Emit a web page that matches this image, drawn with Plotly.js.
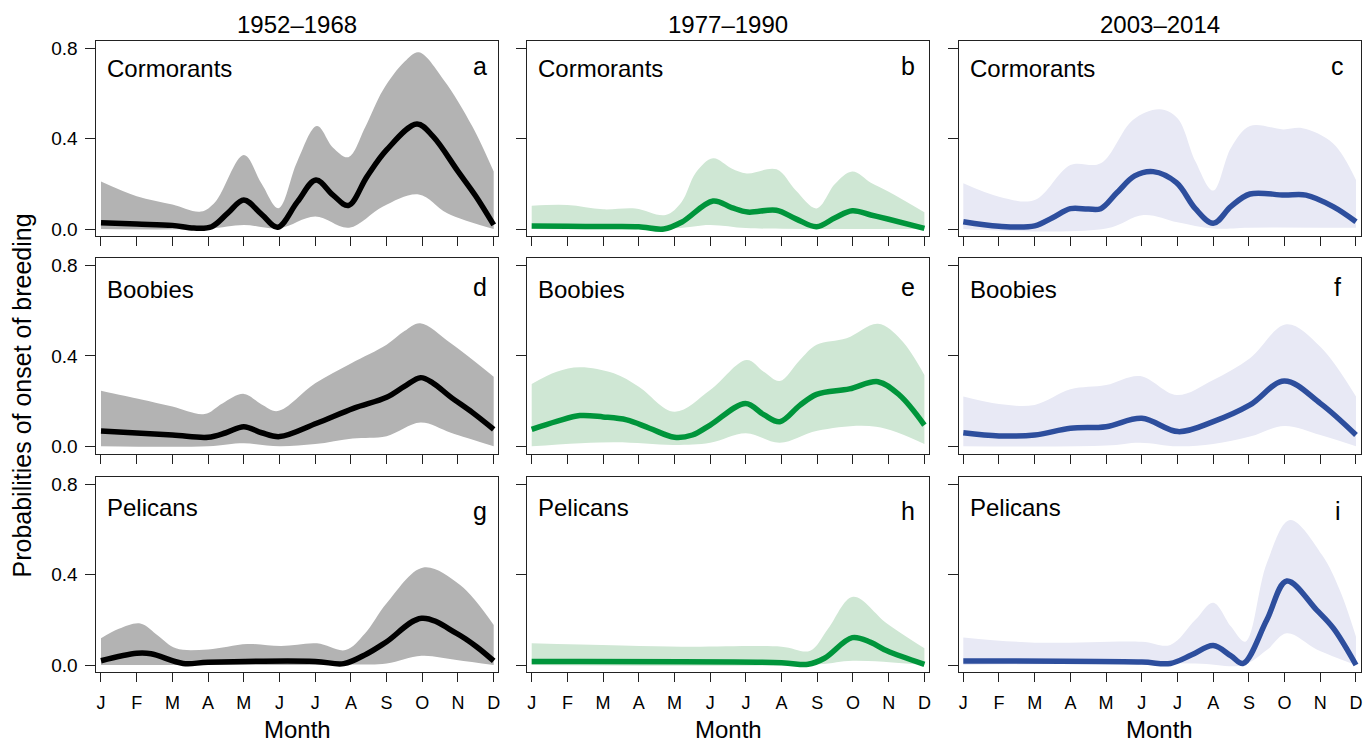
<!DOCTYPE html>
<html>
<head>
<meta charset="utf-8">
<script src="https://cdn.plot.ly/plotly-3.0.1.min.js"></script>
<style>html,body{margin:0;padding:0;background:#fff;}#chart{width:1371px;height:745px;}</style>
</head>
<body>
<div id="chart"></div>
<script>
// ---- Data (month index 1=J ... 12=D, probability) ----
const monthLabels = ['J','F','M','A','M','J','J','A','S','O','N','D'];
const periods = ['1952–1968','1977–1990','2003–2014'];
const species = ['Cormorants','Boobies','Pelicans'];
const panelLetters = ['a','b','c','d','e','f','g','h','i'];

// Cormorants 1952–1968 (a)
const aMean  = [[1,0.028],[2,0.022],[3,0.016],[3.6,0.004],[4.1,0.01],[4.55,0.07],[5.0,0.128],[5.5,0.065],[5.95,0.008],[6.5,0.12],[7.02,0.217],[7.5,0.15],[7.93,0.104],[8.45,0.232],[9.0,0.35],[9.85,0.465],[10.3,0.41],[11.0,0.255],[11.5,0.145],[12,0.018]];
const aUpper = [[1,0.21],[2.0,0.145],[3.0,0.108],[3.8,0.077],[4.2,0.12],[5.0,0.328],[5.5,0.2],[5.97,0.092],[6.5,0.3],[7.05,0.456],[7.5,0.36],[7.93,0.318],[8.4,0.45],[8.9,0.615],[9.5,0.74],[9.9,0.782],[10.6,0.66],[11.4,0.455],[12,0.254]];
const aLower = [[1,0.0],[4,0.002],[5,0.018],[6,0.003],[7,0.055],[7.95,0.006],[8.9,0.1],[9.9,0.153],[10.7,0.07],[12,0.0]];
// Cormorants 1977–1990 (b)
const bMean  = [[1,0.013],[2,0.012],[3,0.011],[4,0.01],[4.7,0.0],[5.2,0.03],[6.08,0.124],[6.6,0.095],[7.05,0.075],[7.85,0.083],[8.4,0.045],[8.98,0.01],[9.5,0.05],[9.98,0.081],[10.5,0.062],[11.0,0.043],[12,0.003]];
const bUpper = [[1,0.103],[2,0.106],[3,0.087],[3.9,0.091],[4.75,0.062],[5.2,0.12],[5.6,0.25],[6.08,0.313],[6.6,0.268],[7.02,0.246],[7.86,0.264],[8.4,0.17],[8.98,0.091],[9.5,0.2],[9.98,0.254],[10.5,0.205],[11.0,0.165],[12,0.074]];
const bLower = [[1,0.0],[5,0.003],[6,0.018],[7,0.004],[8,0.001],[12,0.0]];
// Cormorants 2003–2014 (c)
const cMean  = [[1,0.032],[2,0.012],[3,0.014],[3.5,0.05],[4.0,0.09],[4.5,0.088],[4.85,0.09],[5.3,0.16],[5.8,0.235],[6.32,0.254],[6.97,0.205],[7.5,0.09],[8.0,0.025],[8.5,0.1],[9.03,0.155],[9.99,0.15],[10.6,0.15],[11.36,0.099],[12,0.032]];
const cUpper = [[1,0.202],[2,0.143],[3,0.128],[4.0,0.283],[4.85,0.291],[5.75,0.483],[6.5,0.53],[7.0,0.49],[7.5,0.3],[8.0,0.17],[8.5,0.36],[9.03,0.456],[9.96,0.441],[10.5,0.446],[11.36,0.379],[12,0.217]];
const cLower = [[1,0.0],[5,0.002],[6.05,0.062],[7,0.03],[8,0.002],[9,0.006],[12,0.005]];
// Boobies 1952–1968 (d)
const dMean  = [[1,0.068],[3,0.05],[4,0.04],[4.5,0.06],[5.0,0.087],[5.5,0.06],[6.0,0.043],[7.04,0.102],[8.07,0.168],[9.0,0.217],[9.5,0.265],[9.95,0.304],[10.3,0.28],[10.78,0.22],[11.4,0.15],[12,0.075]];
const dUpper = [[1,0.246],[2.1,0.208],[3.0,0.176],[3.9,0.143],[4.4,0.19],[5.0,0.232],[5.5,0.185],[5.95,0.156],[7.0,0.279],[8.0,0.367],[9.0,0.45],[9.5,0.51],[9.94,0.545],[10.8,0.456],[12,0.308]];
const dLower = [[1,0.0],[4,0.0],[5,0.013],[6,0.0],[7,0.01],[8.05,0.035],[9,0.045],[9.95,0.105],[10.8,0.06],[12,0.0]];
// Boobies 1977–1990 (e)
const eMean  = [[1,0.075],[1.7,0.11],[2.35,0.136],[3.0,0.13],[3.66,0.117],[4.3,0.08],[5.0,0.04],[5.5,0.05],[6.0,0.094],[6.99,0.19],[7.5,0.14],[7.95,0.109],[8.5,0.18],[8.98,0.23],[9.9,0.254],[10.7,0.286],[11.3,0.227],[12,0.094]];
const eUpper = [[1,0.276],[1.7,0.33],[2.35,0.35],[3.3,0.323],[4.0,0.264],[5.0,0.153],[6.0,0.249],[7.02,0.382],[7.5,0.33],[7.95,0.289],[8.5,0.38],[8.98,0.449],[9.82,0.478],[10.7,0.542],[11.35,0.471],[12,0.316]];
const eLower = [[1,0.0],[3.3,0.018],[5,0.006],[6,0.016],[7,0.058],[7.95,0.016],[9.0,0.069],[10.65,0.087],[12,0.01]];
// Boobies 2003–2014 (f)
const fMean  = [[1,0.06],[2,0.046],[3,0.05],[4,0.08],[5,0.087],[6.0,0.124],[7.02,0.065],[8.0,0.109],[9.03,0.183],[9.99,0.289],[11.0,0.19],[12,0.05]];
const fUpper = [[1,0.22],[2,0.187],[3,0.183],[4,0.252],[5,0.271],[5.95,0.311],[6.98,0.227],[8.0,0.294],[9.03,0.39],[10.05,0.54],[11.0,0.441],[12,0.22]];
const fLower = [[1,0.0],[5,0.003],[5.95,0.016],[7,0.0],[8,0.01],[9.03,0.043],[9.99,0.09],[11,0.05],[12,0.0]];
// Pelicans 1952–1968 (g)
const gMean  = [[1,0.019],[2.0,0.052],[2.4,0.05],[3.3,0.007],[4.0,0.012],[7.0,0.016],[7.8,0.006],[8.44,0.049],[9.0,0.103],[9.98,0.207],[10.96,0.14],[11.52,0.081],[12,0.018]];
const gUpper = [[1,0.118],[1.5,0.16],[2.1,0.184],[2.6,0.13],[3.1,0.074],[4.0,0.069],[5.1,0.093],[6.05,0.084],[7.05,0.096],[7.85,0.066],[8.4,0.14],[9.0,0.273],[10.03,0.432],[11.06,0.354],[12,0.177]];
const gLower = [[1,0.0],[8,0.002],[9.0,0.007],[9.98,0.041],[10.96,0.022],[12,0.0]];
// Pelicans 1977–1990 (h)
const hMean  = [[1,0.015],[8.0,0.01],[8.74,0.003],[9.2,0.03],[9.98,0.121],[10.5,0.1],[10.95,0.063],[12,0.003]];
const hUpper = [[1,0.096],[5.2,0.081],[8.0,0.081],[8.8,0.063],[9.3,0.16],[10.0,0.302],[10.95,0.184],[12,0.074]];
const hLower = [[1,0.0],[9,0.003],[10,0.019],[12,0.0]];
// Pelicans 2003–2014 (i)
const iMean  = [[1,0.018],[6.0,0.013],[6.8,0.007],[7.4,0.045],[8.0,0.086],[8.5,0.04],[8.84,0.007],[9.5,0.199],[10.06,0.372],[10.9,0.243],[11.37,0.162],[12,0.0]];
const iUpper = [[1,0.122],[3,0.099],[6,0.103],[6.8,0.089],[7.5,0.2],[8.0,0.276],[8.5,0.17],[8.9,0.103],[9.5,0.45],[10.15,0.642],[11.05,0.487],[11.55,0.33],[12,0.125]];
const iLower = [[1,0.0],[7.5,0.007],[8.84,0.0],[9.5,0.066],[10.06,0.14],[10.9,0.069],[12,0.0]];

const yTickVals = [0, 0.4, 0.8];
const yTickText = ['0.0', '0.4', '0.8'];

// ---- Styling / layout ----
const lineColors = ['#000000', '#00953b', '#2d4e9d'];
const bandColors = ['#b3b3b3', '#cfe7d4', '#e8e9f5'];
const FONT = '"Liberation Sans", Arial, Helvetica, sans-serif';
const W = 1371, H = 745;
const colJ = [101, 531.7, 963.3];       // pixel of J tick per column
const pxPerMonth = 35.7;
const xRange = [0.87, 12.13];
const rowZero = [229, 446.3, 665];      // pixel of y=0 per row
const pxPerUnit = 225.9;
const yRange = [-0.032, 0.832];

const panelData = [
  [aMean, aUpper, aLower], [bMean, bUpper, bLower], [cMean, cUpper, cLower],
  [dMean, dUpper, dLower], [eMean, eUpper, eLower], [fMean, fUpper, fLower],
  [gMean, gUpper, gLower], [hMean, hUpper, hLower], [iMean, iUpper, iLower]
];

const traces = [];
const layout = {
  width: W, height: H,
  margin: {l: 0, r: 0, t: 0, b: 0},
  paper_bgcolor: '#fff', plot_bgcolor: '#fff',
  showlegend: false,
  font: {family: FONT, color: '#000'},
  annotations: []
};

const xs = arr => arr.map(p => p[0]);
const ys = arr => arr.map(p => p[1]);

for (let k = 0; k < 9; k++) {
  const r = Math.floor(k / 3), c = k % 3;
  const n = k + 1;
  const xa = 'x' + (n > 1 ? n : ''), ya = 'y' + (n > 1 ? n : '');
  const [mean, upper, lower] = panelData[k];
  traces.push({x: xs(lower), y: ys(lower), xaxis: xa, yaxis: ya, mode: 'lines',
    line: {width: 0, shape: 'spline', smoothing: 1, color: bandColors[c]}, hoverinfo: 'skip'});
  traces.push({x: xs(upper), y: ys(upper), xaxis: xa, yaxis: ya, mode: 'lines', fill: 'tonexty',
    fillcolor: bandColors[c], line: {width: 0, shape: 'spline', smoothing: 1, color: bandColors[c]}, hoverinfo: 'skip'});
  traces.push({x: xs(mean), y: ys(mean), xaxis: xa, yaxis: ya, mode: 'lines',
    line: {width: 5.5, shape: 'spline', smoothing: 1, color: lineColors[c]}});

  const x0 = colJ[c] + (xRange[0] - 1) * pxPerMonth;
  const x1 = colJ[c] + (xRange[1] - 1) * pxPerMonth;
  const yTop = rowZero[r] - yRange[1] * pxPerUnit;
  const yBot = rowZero[r] - yRange[0] * pxPerUnit;

  layout['xaxis' + (n > 1 ? n : '')] = {
    domain: [x0 / W, x1 / W], anchor: ya, range: xRange, automargin: false,
    tickmode: 'array', tickvals: monthLabels.map((m, i) => i + 1),
    ticktext: r === 2 ? monthLabels : monthLabels.map(() => ''),
    ticks: 'outside', ticklen: 9, tickwidth: 1, tickcolor: '#222',
    showline: true, linecolor: '#222', linewidth: 1, mirror: true,
    showgrid: false, zeroline: false, fixedrange: true,
    tickfont: {family: FONT, size: 18, color: '#000'}, ticklabelstandoff: 5
  };
  layout['yaxis' + (n > 1 ? n : '')] = {
    domain: [1 - yBot / H, 1 - yTop / H], anchor: xa, range: yRange, automargin: false,
    tickmode: 'array', tickvals: yTickVals,
    ticktext: c === 0 ? yTickText : yTickText.map(() => ''),
    ticks: 'outside', ticklen: 10, tickwidth: 1, tickcolor: '#222',
    showline: true, linecolor: '#222', linewidth: 1, mirror: true,
    showgrid: false, zeroline: false, fixedrange: true,
    tickfont: {family: FONT, size: 19, color: '#000'}, ticklabelstandoff: 4
  };

  // species name (top-left) and panel letter (top-right)
  const nameCenters = [68.6, 289.5, 507];
  const letterCenters = [66, 286.6, 511];
  const letterX = [480, 908.5, 1337.5];
  layout.annotations.push({xref: 'paper', yref: 'paper', x: (x0 + 9) / W, y: 1 - nameCenters[r] / H,
    xanchor: 'left', yanchor: 'middle', showarrow: false, text: species[r],
    font: {family: FONT, size: 24, color: '#000'}});
  layout.annotations.push({xref: 'paper', yref: 'paper', x: letterX[c] / W, y: 1 - letterCenters[r] / H,
    xanchor: 'center', yanchor: 'middle', showarrow: false, text: panelLetters[k],
    font: {family: FONT, size: 25, color: '#000'}});

  if (r === 0) {
    layout.annotations.push({xref: 'paper', yref: 'paper', x: (x0 + x1) / 2 / W, y: 1 - 25 / H,
      xanchor: 'center', yanchor: 'middle', showarrow: false, text: periods[c],
      font: {family: FONT, size: 24, color: '#000'}});
  }
  if (r === 2) {
    layout.annotations.push({xref: 'paper', yref: 'paper', x: (x0 + x1) / 2 / W, y: 0.001,
      xanchor: 'center', yanchor: 'bottom', showarrow: false, text: 'Month', borderpad: 0,
      font: {family: FONT, size: 24, color: '#000'}});
  }
}

layout.annotations.push({xref: 'paper', yref: 'paper', x: 21.5 / W, y: 1 - 396 / H,
  xanchor: 'center', yanchor: 'middle', showarrow: false, textangle: -90,
  text: 'Probabilities of onset of breeding', font: {family: FONT, size: 25, color: '#000'}});

Plotly.newPlot('chart', traces, layout, {staticPlot: true, displayModeBar: false});
</script>
</body>
</html>
